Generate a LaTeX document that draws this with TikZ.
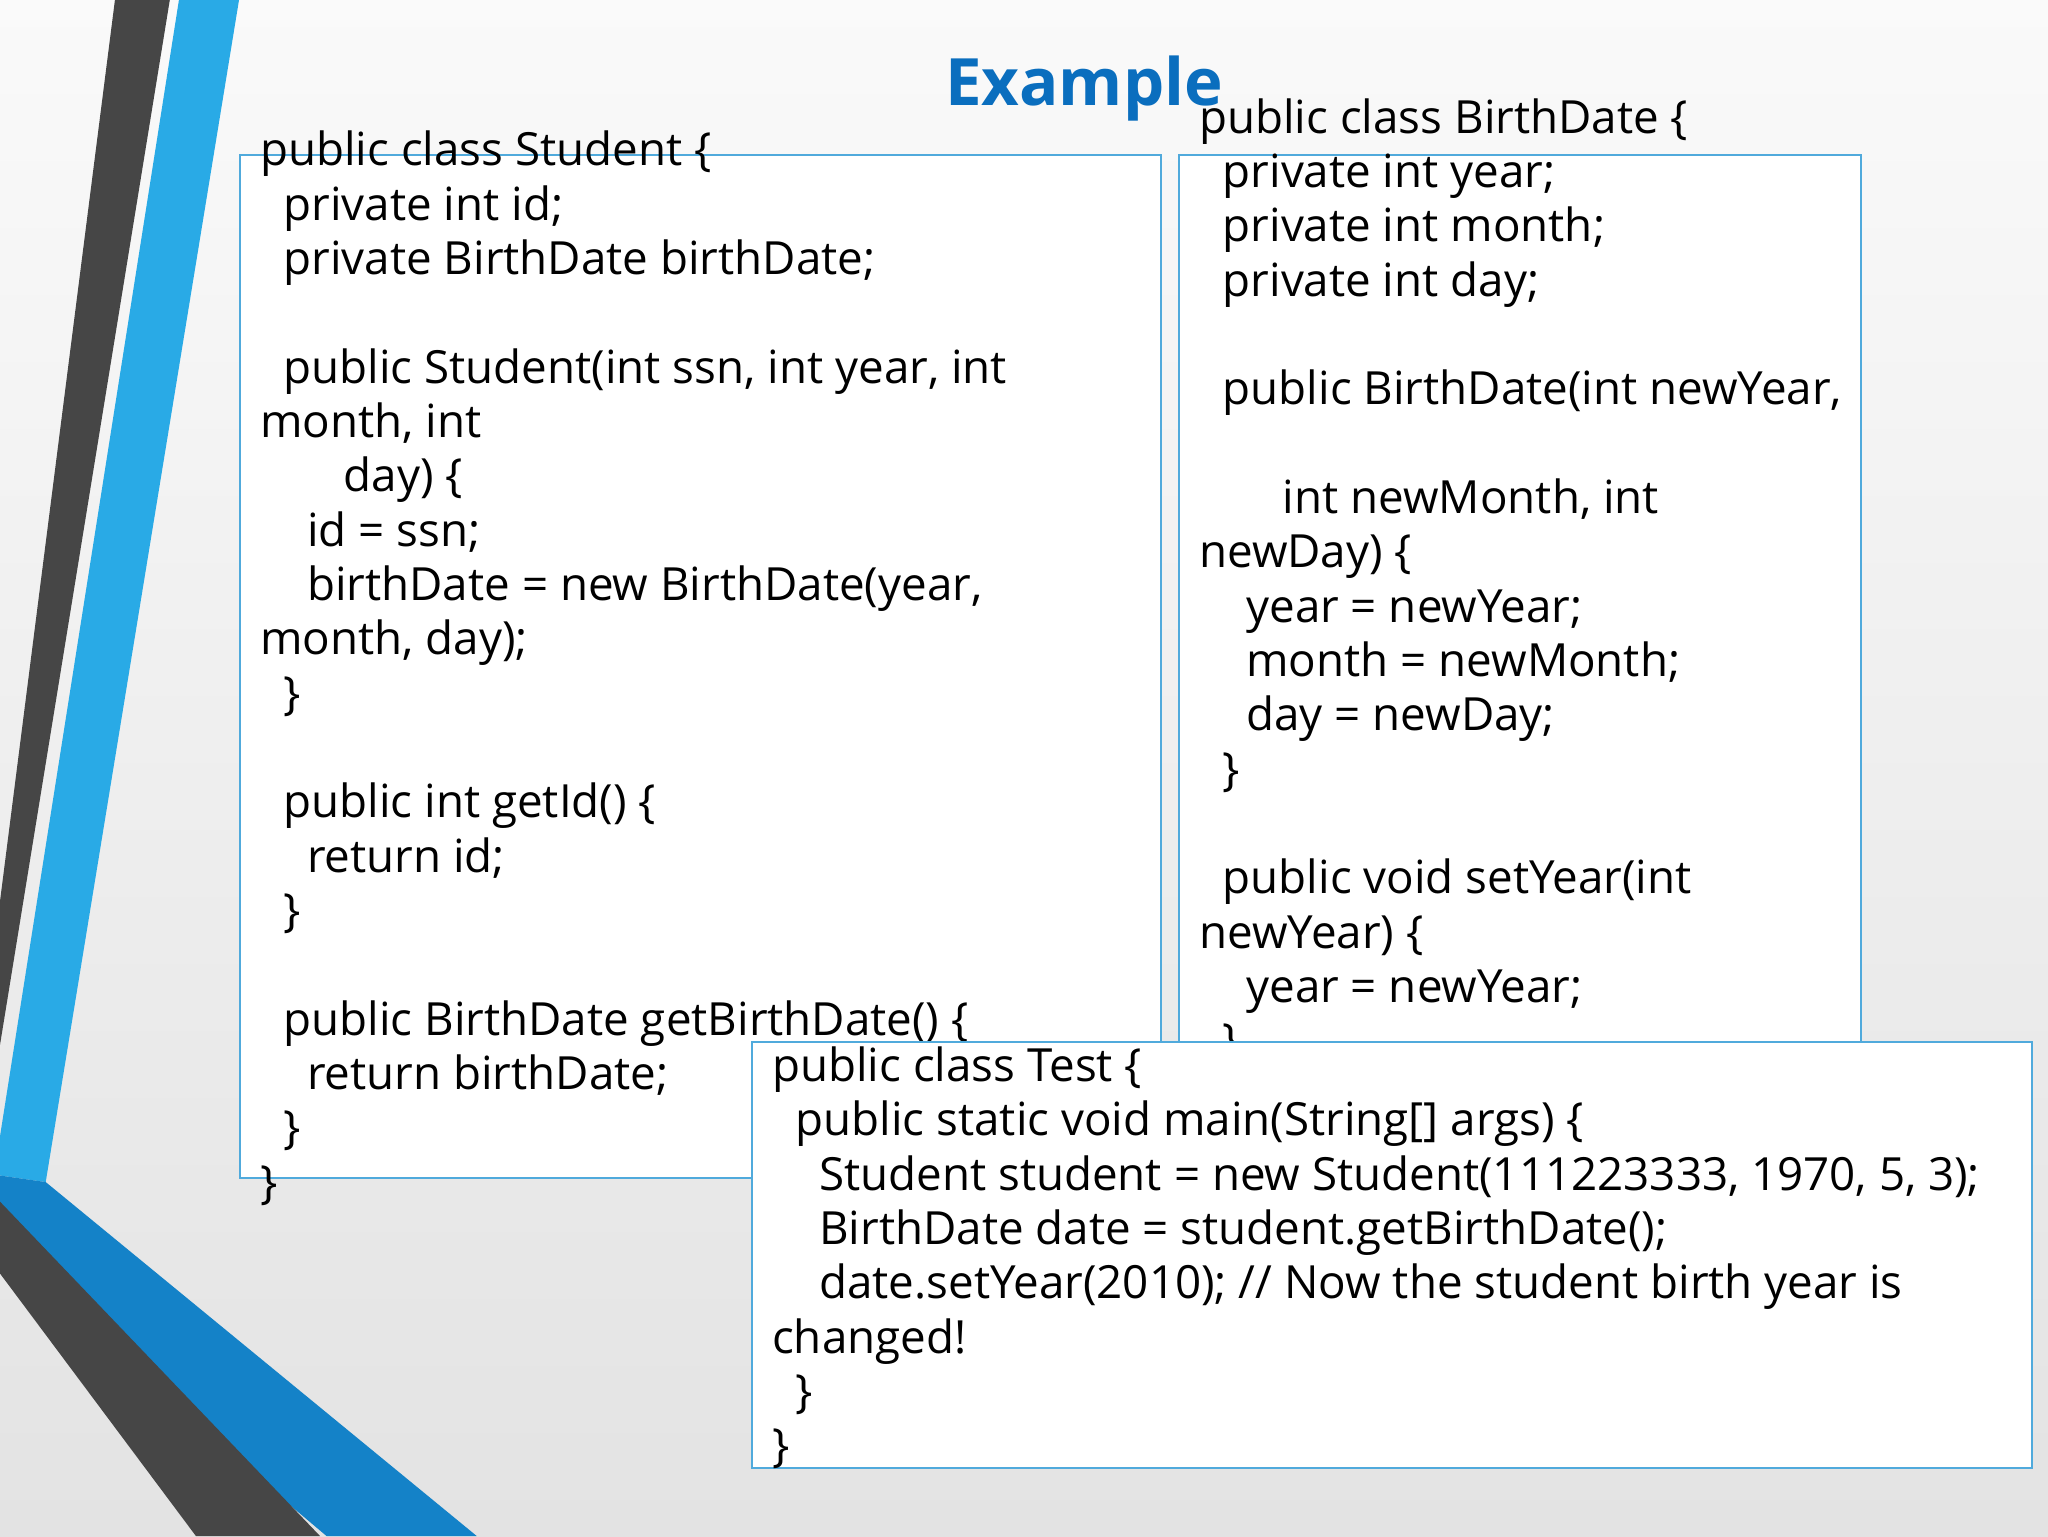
\documentclass[tikz,border=0pt]{standalone}
\usepackage{fontspec}
\setmainfont{Open Sans}
\definecolor{bluebar}{RGB}{41,170,230}
\definecolor{bluedark}{RGB}{20,130,200}
\definecolor{darkbar}{RGB}{70,70,70}
\definecolor{boxline}{RGB}{80,170,220}
\definecolor{titleblue}{RGB}{10,110,190}
\tikzset{codeline/.style={anchor=base west,inner sep=0pt,font=\fontsize{35}{42}\selectfont},
codebox/.style={draw=boxline,line width=1.5pt,fill=white}}
\begin{document}
\begin{tikzpicture}[x=1pt,y=-1pt]
\useasboundingbox (0,0) rectangle (1568,1176);
\shade[top color=gray!4,bottom color=gray!22] (0,0) rectangle (1568,1176);
% stripes
\fill[darkbar] (88,0) -- (130,0) -- (0,800) -- (0,690) -- cycle;
\fill[bluebar] (137,0) -- (183,0) -- (35,905) -- (0,900) -- (0,870) -- cycle;
\fill[bluedark] (0,900) -- (35,905) -- (365,1176) -- (250,1176) -- (0,965) -- cycle;
\fill[darkbar] (0,920) -- (0,975) -- (150,1176) -- (245,1176) -- cycle;
% boxes
\node[codebox,minimum width=705,minimum height=783,anchor=north west,inner sep=0] (sbox) at (183,118) {};
\foreach \x/\t [count=\i] in {199/{public class Student \{},217/{private int id;},217/{private BirthDate birthDate;},217/{},217/{public Student(int ssn, int year, int},199/{month, int},263/{day) \{},235/{id = ssn;},235/{birthDate = new BirthDate(year,},199/{month, day);},217/{\}},217/{},217/{public int getId() \{},235/{return id;},217/{\}},217/{},217/{public BirthDate getBirthDate() \{},235/{return birthDate;},217/{\}},199/{\}}}
  \node[codeline] (s\i) at (\x,{127+41.6*(\i-1)}) {\t};
\node[codebox,minimum width=522,minimum height=690,anchor=north west,inner sep=0] (bbox) at (902,118) {};
\foreach \x/\t [count=\i] in {918/{public class BirthDate \{},936/{private int year;},936/{private int month;},936/{private int day;},936/{},936/{public BirthDate(int newYear,},936/{},982/{int newMonth, int},918/{newDay) \{},954/{year = newYear;},954/{month = newMonth;},954/{day = newDay;},936/{\}},936/{},936/{public void setYear(int},918/{newYear) \{},954/{year = newYear;},936/{\}}}
  \node[codeline] (b\i) at (\x,{102+41.6*(\i-1)}) {\t};
\node[codebox,minimum width=980,minimum height=326,anchor=north west,inner sep=0] (tbox) at (575,797) {};
\foreach \x/\t [count=\i] in {591/{public class Test \{},609/{public static void main(String[] args) \{},627/{Student student = new Student(111223333, 1970, 5, 3);},627/{BirthDate date = student.getBirthDate();},627/{date.setYear(2010); // Now the student birth year is},591/{changed!},609/{\}},591/{\}}}
  \node[codeline] (t\i) at (\x,{828+41.6*(\i-1)}) {\t};
\node[font=\fontsize{50}{60}\selectfont\bfseries,text=titleblue,inner sep=0] (title) at (830,68) {Example};
\end{tikzpicture}
\end{document}
